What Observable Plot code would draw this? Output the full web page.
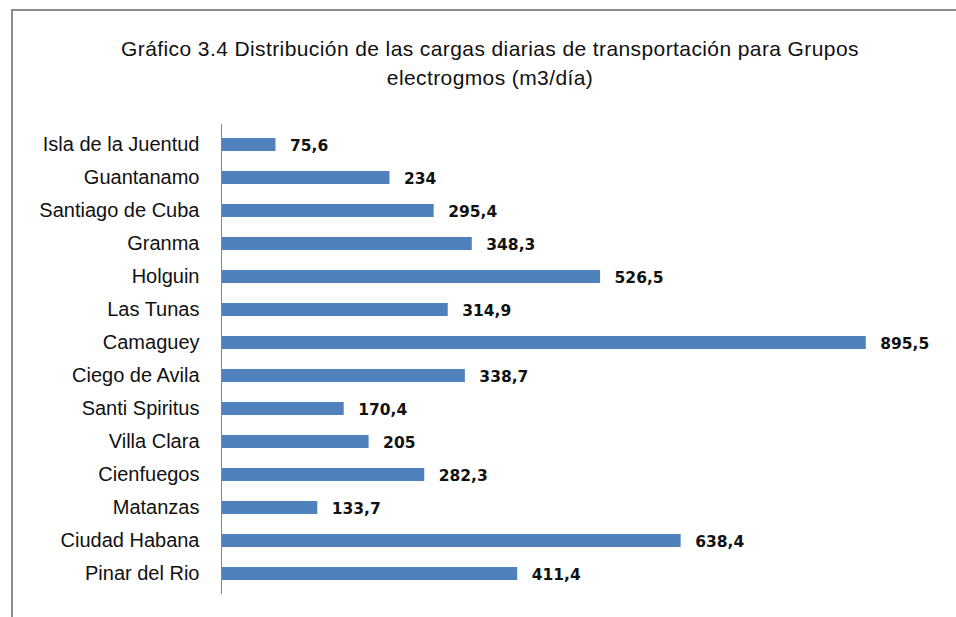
<!DOCTYPE html>
<html><head><meta charset="utf-8">
<script src="https://cdn.jsdelivr.net/npm/d3@7"></script>
<script src="https://cdn.jsdelivr.net/npm/@observablehq/plot@0.6"></script>
<style>
body{margin:0;background:#fff;}
#wrap{position:relative;width:956px;height:617px;overflow:hidden;background:#fff;}
#frame{position:absolute;left:11px;top:9px;width:1000px;height:700px;border-left:2px solid #8c8c8c;border-top:2px solid #8c8c8c;}
#title{position:absolute;left:0;width:980px;top:34px;text-align:center;font-family:"Liberation Sans",Arial,sans-serif;font-size:21px;line-height:29px;color:#111;letter-spacing:0.4px;}
#chart{position:absolute;left:0;top:100px;}
</style></head>
<body><div id="wrap"><div id="frame"></div><div id="title">Gráfico 3.4 Distribución de las cargas diarias de transportación para Grupos<br>electrogmos (m3/día)</div><div id="chart"></div></div>
<script>
const categories = ["Isla de la Juentud","Guantanamo","Santiago de Cuba","Granma","Holguin","Las Tunas","Camaguey","Ciego de Avila","Santi Spiritus","Villa Clara","Cienfuegos","Matanzas","Ciudad Habana","Pinar del Rio"];
const values = [75.6,234,295.4,348.3,526.5,314.9,895.5,338.7,170.4,205,282.3,133.7,638.4,411.4];
const valueLabels = ["75,6","234","295,4","348,3","526,5","314,9","895,5","338,7","170,4","205","282,3","133,7","638,4","411,4"];

const data = categories.map((c,i)=>({cat:c, value:values[i], label:valueLabels[i]}));
const chart = Plot.plot({
  width:956, height:500, marginTop:24, marginBottom:6, marginLeft:221, marginRight:15,
  x:{domain:[0,1000], axis:null},
  y:{domain:categories, paddingInner:0.61, paddingOuter:0.305, axis:null},
  style:{fontFamily:'"Liberation Sans",Arial,sans-serif', fontSize:"20px", color:"#111", background:"transparent", overflow:"visible"},
  marks:[
    Plot.barX(data,{y:"cat", x:"value", fill:"#4F81BD"}),
    Plot.ruleX([0],{stroke:"#868686"}),
    Plot.axisY({tickSize:0, tickPadding:22, label:null, fontSize:20}),
    Plot.text(data,{y:"cat", x:"value", text:"label", textAnchor:"start", dx:14, dy:1, fontFamily:"DejaVu Sans", fontWeight:"bold", fontSize:15.5, fill:"#111"})
  ]
});
document.getElementById("chart").appendChild(chart);
</script></body></html>
